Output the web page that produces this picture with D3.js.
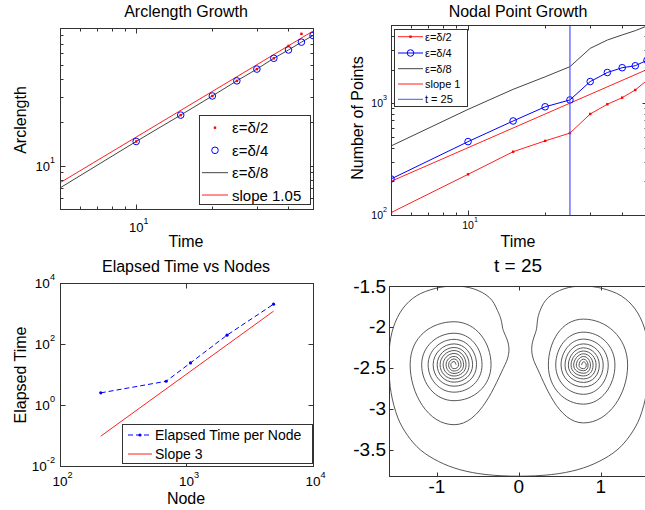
<!DOCTYPE html>
<html><head><meta charset="utf-8">
<script src="https://cdn.jsdelivr.net/npm/d3@7"></script>
<style>body{margin:0;background:#fff}svg{display:block;font-family:"Liberation Sans",Arial,sans-serif}</style>
</head><body><svg width="645" height="510"></svg>
<script>
// ---------------- DATA ----------------
// Panel 1: Arclength Growth
const arcHalfT = [10,15,20,25,30,35,40,45];
const arcHalf = [14.7,22.4,30.4,38.7,46.7,55.5,67.6,82.0];
const arcQuarterT = [10,15,20,25,30,35,40,45,50];
const arcQuarter = [14.7,22.4,30.4,38.7,46.7,55.5,63.4,71.8,79.8];
const arcEighthT = [5,10,15,20,25,30,35,40,45,50];
const arcEighth = [7.0,14.7,22.4,30.4,38.7,46.7,55.5,63.4,71.8,79.8];
const arcSlopeT = [5,50];
const arcSlopeY = [7.6,85.7];
const arcLegend = ["ε=δ/2","ε=δ/4","ε=δ/8","slope 1.05"];

// Panel 2: Nodal Point Growth
const nodT = [5,10,15,20,25,30,35,40,45,50];
const nodHalf = [105,231,368,460,540,800,978,1120,1312,1600];
const nodQuarter = [210,453,693,928,1069,1560,1880,2075,2160,2420];
const nodEighth = [414,880,1330,1720,2120,3090,3670,4075,4450,4900];
const nodSlopeT = [5,50];
const nodSlopeY = [200,2000];
const markTime = 25;
const nodLegend = ["ε=δ/2","ε=δ/4","ε=δ/8","slope 1","t = 25"];

// Panel 3: Elapsed Time vs Nodes
const nodes = [210,690,1075,2090,4875];
const elapsed = [2.5,6.0,24,195,2020];
const slope3N = [210,4875];
const slope3T = [0.095,1190];
const elLegend = ["Elapsed Time per Node","Slope 3"];

// Panel 4: t = 25 curve (outer loop points, then spiral crossing radii per quarter turn)
const loopX = [-0.20,-0.26,-0.36,-0.55,-0.78,-1.02,-1.25,-1.42,-1.53,-1.58,-1.585,-1.56,-1.48,-1.36,-1.20,-0.98,-0.72,-0.40,0,
               0.40,0.72,0.98,1.20,1.36,1.48,1.56,1.585,1.58,1.53,1.42,1.25,1.02,0.78,0.55,0.36,0.26,0.22];
const loopY = [-2.0,-1.80,-1.64,-1.535,-1.50,-1.53,-1.62,-1.78,-2.0,-2.25,-2.5,-2.8,-3.10,-3.32,-3.50,-3.64,-3.74,-3.80,-3.82,
               -3.80,-3.74,-3.64,-3.50,-3.32,-3.10,-2.8,-2.5,-2.25,-2.0,-1.78,-1.62,-1.53,-1.50,-1.535,-1.64,-1.80,-2.0];
const leftCenter = [-0.79,-2.46];
const leftR = [0.622,0.451,0.341,0.274,0.226,0.183,0.146,0.116,0.085,0.055,0.024];
const leftB = [0.732,0.439,0.335,0.262,0.213,0.174,0.138,0.107,0.077,0.049];
const leftL = [0.537,0.396,0.317,0.256,0.207,0.171,0.134,0.098,0.067,0.040];
const leftT = [0.524,0.384,0.309,0.254,0.210,0.173,0.137,0.101,0.070,0.038];
const rightCenter = [0.79,-2.465];
const rightL = [0.583,0.429,0.339,0.274,0.226,0.185,0.152,0.120,0.088,0.055,0.024];
const rightB = [0.705,0.476,0.356,0.266,0.211,0.168,0.132,0.099,0.068,0.043];
const rightR = [0.539,0.384,0.302,0.241,0.193,0.154,0.117,0.085,0.056,0.034];
const rightT = [0.561,0.402,0.317,0.259,0.211,0.172,0.138,0.105,0.073,0.040];

// ---------------- HELPERS ----------------
const svg = d3.select("svg");
const AX = "#333";
function majors(d){const o=[];for(let e=Math.ceil(Math.log10(d[0])-1e-9);e<=Math.floor(Math.log10(d[1])+1e-9);e++)o.push(Math.pow(10,e));return o;}
function minors(d){const o=[];for(let e=Math.floor(Math.log10(d[0]));e<=Math.ceil(Math.log10(d[1]));e++)for(let k=2;k<=9;k++){const v=k*Math.pow(10,e);if(v>d[0]*1.0001&&v<d[1]*0.9999)o.push(v);}return o;}
let clipN=0;
function panel(c){
  const g=svg.append("g");
  const id="clip"+(clipN++);
  svg.append("clipPath").attr("id",id).append("rect").attr("x",c.L).attr("y",c.T).attr("width",c.R-c.L).attr("height",c.B-c.T);
  const data=g.append("g").attr("clip-path",`url(#${id})`);
  const axes=g.append("g");
  const L=Math.round(c.L)+.5,R=Math.round(c.R)+.5,T=Math.round(c.T)+.5,B=Math.round(c.B)+.5;
  axes.append("rect").attr("x",L).attr("y",T).attr("width",R-L).attr("height",B-T).attr("fill","none").attr("stroke",AX).attr("stroke-width",1);
  const tick=(x1,y1,x2,y2)=>axes.append("line").attr("x1",x1).attr("y1",y1).attr("x2",x2).attr("y2",y2).attr("stroke",AX).attr("stroke-width",1);
  (c.xMaj||[]).forEach(v=>{const p=Math.round(c.x(v))+.5;tick(p,B,p,B-c.tl);tick(p,T,p,T+c.tl);});
  (c.xMin||[]).forEach(v=>{const p=Math.round(c.x(v))+.5;tick(p,B,p,B-c.tm);tick(p,T,p,T+c.tm);});
  (c.yMaj||[]).forEach(v=>{const p=Math.round(c.y(v))+.5;tick(L,p,L+c.tl,p);tick(R,p,R-c.tl,p);});
  (c.yMin||[]).forEach(v=>{const p=Math.round(c.y(v))+.5;tick(L,p,L+c.tm,p);tick(R,p,R-c.tm,p);});
  return {g,data,axes};
}
function text(x,y,s,size,anchor,rot){
  const t=svg.append("text").attr("x",x).attr("y",y).attr("font-size",size).attr("text-anchor",anchor||"middle")
    .attr("dominant-baseline","central").attr("fill","#000").text(s);
  if(rot) t.attr("transform",`rotate(${rot},${x},${y})`);
  return t;
}
function powX(x,y,e,fs){
  const w=fs*1.112;
  const t=svg.append("text").attr("x",x-w/2).attr("y",y).attr("font-size",fs).attr("dominant-baseline","central").attr("fill","#000");
  t.append("tspan").text("10");
  t.append("tspan").attr("dy",-fs*0.45).attr("font-size",fs*0.68).text(e);
}
function powY(xr,y,e,fs){
  const t=svg.append("text").attr("x",xr).attr("y",y).attr("font-size",fs).attr("text-anchor","end").attr("dominant-baseline","central").attr("fill","#000");
  t.append("tspan").text("10");
  t.append("tspan").attr("dy",-fs*0.45).attr("font-size",fs*0.68).text(e);
}
function legendBox(x0,y0,x1,y1){
  svg.append("rect").attr("x",x0+.5).attr("y",y0+.5).attr("width",x1-x0).attr("height",y1-y0).attr("fill","#fff").attr("stroke",AX);
}

// ---------------- PANEL 1 ----------------
{
  const x=d3.scaleLog().domain([5,50]).range([60,313]);
  const y=d3.scaleLog().domain([5,90]).range([209,28]);
  const p=panel({L:60,R:313,T:28,B:209,x,y,xMaj:majors([5,50]),xMin:minors([5,50]),yMaj:majors([5,90]),yMin:minors([5,90]),tl:5,tm:3});
  const lg=d3.line().x(d=>x(d[0])).y(d=>y(d[1]));
  p.data.append("path").attr("d",lg(arcSlopeT.map((t,i)=>[t,arcSlopeY[i]]))).attr("fill","none").attr("stroke","#ff2020").attr("stroke-width",1);
  p.data.append("path").attr("d",lg(arcEighthT.map((t,i)=>[t,arcEighth[i]]))).attr("fill","none").attr("stroke","#444").attr("stroke-width",1);
  p.data.selectAll(".c").data(arcQuarterT.map((t,i)=>[t,arcQuarter[i]])).join("circle").attr("cx",d=>x(d[0])).attr("cy",d=>y(d[1])).attr("r",3.3).attr("fill","none").attr("stroke","blue").attr("stroke-width",1);
  p.data.selectAll(".d").data(arcHalfT.map((t,i)=>[t,arcHalf[i]])).join("rect").attr("x",d=>x(d[0])-1.2).attr("y",d=>y(d[1])-1.2).attr("width",2.4).attr("height",2.4).attr("fill","red");
  text(186,11,"Arclength Growth",16);
  text(186,241,"Time",16);
  text(20,120,"Arclength",16,"middle",-90);
  majors([5,50]).forEach(v=>powX(x(v),227,Math.round(Math.log10(v)),13));
  majors([5,90]).forEach(v=>powY(55,y(v),Math.round(Math.log10(v)),13));
  legendBox(199,115,310,204);
  const ly=[127.7,150.3,172.7,195];
  svg.append("rect").attr("x",215-1.2).attr("y",ly[0]-1.2).attr("width",2.4).attr("height",2.4).attr("fill","red");
  svg.append("circle").attr("cx",215).attr("cy",ly[1]).attr("r",3.3).attr("fill","none").attr("stroke","blue");
  svg.append("line").attr("x1",202).attr("x2",228).attr("y1",ly[2]).attr("y2",ly[2]).attr("stroke","#444");
  svg.append("line").attr("x1",202).attr("x2",228).attr("y1",ly[3]).attr("y2",ly[3]).attr("stroke","#ff2020");
  arcLegend.forEach((s,i)=>text(232,ly[i],s,15,"start"));
}

// ---------------- PANEL 2 ----------------
{
  const x=d3.scaleLog().domain([5,50]).range([391,647]);
  const y=d3.scaleLog().domain([100,5000]).range([215,25]);
  const p=panel({L:391,R:647,T:25,B:215,x,y,xMaj:majors([5,50]),xMin:minors([5,50]),yMaj:majors([100,5000]),yMin:minors([100,5000]),tl:5,tm:3});
  const lg=d3.line().x(d=>x(d[0])).y(d=>y(d[1]));
  const pts=(a)=>nodT.map((t,i)=>[t,a[i]]);
  p.data.append("path").attr("d",lg(pts(nodEighth))).attr("fill","none").attr("stroke","#444").attr("stroke-width",1);
  p.data.append("path").attr("d",lg(nodSlopeT.map((t,i)=>[t,nodSlopeY[i]]))).attr("fill","none").attr("stroke","#ff2020").attr("stroke-width",1);
  p.data.append("path").attr("d",lg(pts(nodHalf))).attr("fill","none").attr("stroke","#ff2020").attr("stroke-width",1);
  p.data.selectAll(".d").data(pts(nodHalf)).join("rect").attr("x",d=>x(d[0])-1.2).attr("y",d=>y(d[1])-1.2).attr("width",2.4).attr("height",2.4).attr("fill","red");
  p.data.append("path").attr("d",lg(pts(nodQuarter))).attr("fill","none").attr("stroke","blue").attr("stroke-width",1);
  p.data.selectAll(".c").data(pts(nodQuarter)).join("circle").attr("cx",d=>x(d[0])).attr("cy",d=>y(d[1])).attr("r",3.3).attr("fill","none").attr("stroke","blue").attr("stroke-width",1);
  p.data.append("line").attr("x1",x(markTime)).attr("x2",x(markTime)).attr("y1",y(100)).attr("y2",y(5000)).attr("stroke","#5050ff").attr("stroke-width",1.2);
  text(518,11,"Nodal Point Growth",16);
  text(518,241,"Time",16);
  text(357,118,"Number of Points",16,"middle",-90);
  majors([5,50]).forEach(v=>powX(x(v),225,Math.round(Math.log10(v)),10.5));
  majors([100,5000]).forEach(v=>powY(387,y(v),Math.round(Math.log10(v)),10.5));
  legendBox(394,29,467,106);
  const ly=[36.7,53,68.7,84,99.3];
  const cols=["#ff2020","blue","#444","#ff2020","#5050ff"];
  ly.forEach((yy,i)=>svg.append("line").attr("x1",398).attr("x2",423).attr("y1",yy).attr("y2",yy).attr("stroke",cols[i]));
  svg.append("rect").attr("x",410.5-1.2).attr("y",ly[0]-1.2).attr("width",2.4).attr("height",2.4).attr("fill","red");
  svg.append("circle").attr("cx",410.5).attr("cy",ly[1]).attr("r",3.3).attr("fill","none").attr("stroke","blue");
  nodLegend.forEach((s,i)=>text(425,ly[i],s,11,"start"));
}

// ---------------- PANEL 3 ----------------
{
  const x=d3.scaleLog().domain([100,10000]).range([60,313]);
  const y=d3.scaleLog().domain([0.01,10000]).range([466,283]);
  const p=panel({L:60,R:313,T:283,B:466,x,y,xMaj:majors([100,10000]),yMaj:[0.01,1,100,10000],tl:5,tm:3});
  const lg=d3.line().x(d=>x(d[0])).y(d=>y(d[1]));
  p.data.append("path").attr("d",lg(slope3N.map((n,i)=>[n,slope3T[i]]))).attr("fill","none").attr("stroke","#ff2020").attr("stroke-width",1);
  p.data.append("path").attr("d",lg(nodes.map((n,i)=>[n,elapsed[i]]))).attr("fill","none").attr("stroke","blue").attr("stroke-width",1).attr("stroke-dasharray","5,3");
  p.data.selectAll(".d").data(nodes.map((n,i)=>[n,elapsed[i]])).join("circle").attr("cx",d=>x(d[0])).attr("cy",d=>y(d[1])).attr("r",1.6).attr("fill","blue");
  text(186,266,"Elapsed Time vs Nodes",16);
  text(186,498,"Node",16);
  text(20,375,"Elapsed Time",16,"middle",-90);
  majors([100,10000]).forEach(v=>powX(x(v),481,Math.round(Math.log10(v)),13.5));
  [0.01,1,100,10000].forEach(v=>powY(55,y(v),Math.round(Math.log10(v)),13.5));
  legendBox(122,424,312,463);
  const ly=[435,454];
  svg.append("line").attr("x1",128).attr("x2",152).attr("y1",ly[0]).attr("y2",ly[0]).attr("stroke","blue").attr("stroke-dasharray","5,3");
  svg.append("circle").attr("cx",140).attr("cy",ly[0]).attr("r",1.6).attr("fill","blue");
  svg.append("line").attr("x1",128).attr("x2",152).attr("y1",ly[1]).attr("y2",ly[1]).attr("stroke","#ff2020");
  elLegend.forEach((s,i)=>text(155,ly[i],s,14,"start"));
}

// ---------------- PANEL 4 ----------------
{
  const x=d3.scaleLinear().domain([-1.585,1.585]).range([389,648.6]);
  const y=d3.scaleLinear().domain([-3.82,-1.5]).range([476.2,286]);
  const p=panel({L:389,R:648.6,T:286,B:476.2,x,y,xMaj:[-1,0,1],yMaj:[-1.5,-2,-2.5,-3,-3.5],tl:4,tm:2});
  function spiral(c,dirs,order){
    const pts=[];
    for(let k=0;k<20;k++){
      for(const dname of order){
        const arr=dirs[dname]; if(k>=arr.length) return pts;
        const r=arr[k];
        pts.push(dname==="R"?[c[0]+r,c[1]]:dname==="L"?[c[0]-r,c[1]]:dname==="T"?[c[0],c[1]+r]:[c[0],c[1]-r]);
      }
    }
    return pts;
  }
  const ls=spiral(leftCenter,{R:leftR,B:leftB,L:leftL,T:leftT},["R","B","L","T"]).reverse();
  const loop=loopX.map((v,i)=>[v,loopY[i]]);
  const rs=spiral(rightCenter,{L:rightL,B:rightB,R:rightR,T:rightT},["L","B","R","T"]);
  const all=ls.concat(loop,rs).map(d=>[x(d[0]),y(d[1])]);
  const kind=ls.map(()=>0.276).concat(loop.map(()=>1/6),rs.map(()=>0.276));
  kind[ls.length-1]=0.2; kind[ls.length+loop.length]=0.2;
  const n=all.length, tan=all.map((q,i)=>{const a=all[Math.max(i-1,0)],b=all[Math.min(i+1,n-1)];return [(b[0]-a[0])*kind[i],(b[1]-a[1])*kind[i]];});
  const path=d3.path();
  path.moveTo(all[0][0],all[0][1]);
  for(let i=0;i<n-1;i++){
    path.bezierCurveTo(all[i][0]+tan[i][0],all[i][1]+tan[i][1],all[i+1][0]-tan[i+1][0],all[i+1][1]-tan[i+1][1],all[i+1][0],all[i+1][1]);
  }
  p.data.append("path").attr("d",path.toString()).attr("fill","none").attr("stroke","#444").attr("stroke-width",0.9);
  text(518,265,"t = 25",19);
  [-1,0,1].forEach(v=>text(x(v),486,String(v),19));
  [-1.5,-2,-2.5,-3,-3.5].forEach(v=>text(386,y(v),String(v),19,"end"));
}
</script></body></html>
